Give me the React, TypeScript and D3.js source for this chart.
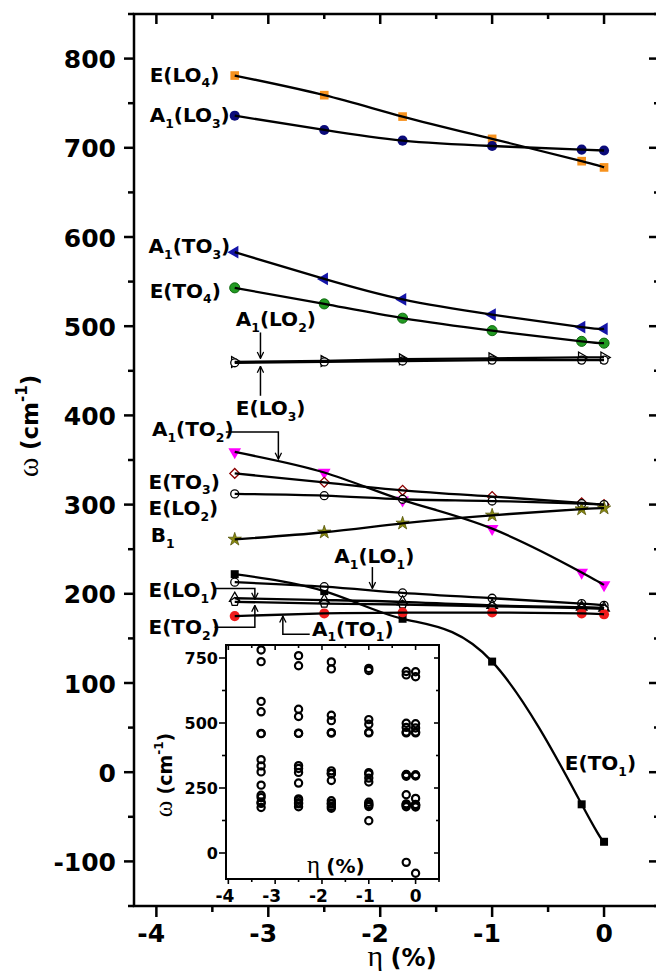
import React from 'react';
import * as d3 from 'd3';

// strain values (%), same for every mode
const eta = [-3.3, -2.5, -1.8, -1.0, -0.2, 0];

// phonon frequencies (cm^-1) per mode
const eLO4 = [781, 759, 735, 710, 685, 678];
const a1LO3 = [736, 720, 708, 702, 698, 697];
const a1TO3 = [583, 553, 530, 513, 499, 497];
const eTO4 = [543, 525, 509, 495, 483, 481];
const a1LO2 = [460, 461, 463, 464, 465, 465];
const eLO3 = [459, 460, 461, 462, 462, 462];
const a1TO2 = [359, 336, 305, 273, 224, 210];
const eTO3 = [335, 325, 316, 309, 302, 300];
const eLO2 = [312, 310, 306, 304, 301, 300];
const b1 = [261, 269, 279, 288, 295, 296];
const a1LO1 = [213, 208, 201, 195, 189, 187];
const eLO1 = [195, 193, 191, 187, 185, 184];
const eTO2 = [191, 189, 188, 186, 184, 183];
const a1TO1 = [175, 178, 179, 179, 178, 177];
const eTO1 = [222, 203, 172, 124, -36, -78];

const xTicks = [-4, -3, -2, -1, 0];
const yTicks = [-100, 0, 100, 200, 300, 400, 500, 600, 700, 800];
const insetXTicks = [-4, -3, -2, -1, 0];
const insetYTicks = [0, 250, 500, 750];

const symbolPentagon = {
  draw(ctx: any, size: number) {
    const r = Math.sqrt(size / 2.4);
    for (let i = 0; i < 5; i++) {
      const a = -Math.PI / 2 + (i * 2 * Math.PI) / 5;
      const px = r * Math.cos(a), py = r * Math.sin(a);
      if (i === 0) ctx.moveTo(px, py); else ctx.lineTo(px, py);
    }
    ctx.closePath();
  },
};

type Series = { values: number[]; type: any; size: number; rotate: number; fill: string; stroke: string; sw: number };

const series: Series[] = [
  { values: eLO4, type: d3.symbolSquare, size: 75, rotate: 0, fill: '#f7921e', stroke: '#f7921e', sw: 0 },
  { values: a1LO3, type: d3.symbolCircle, size: 80, rotate: 0, fill: '#0b0b7a', stroke: '#0b0b7a', sw: 0 },
  { values: a1TO3, type: d3.symbolTriangle, size: 70, rotate: -90, fill: '#1515a8', stroke: '#1515a8', sw: 0 },
  { values: eTO4, type: d3.symbolCircle, size: 80, rotate: 0, fill: '#229a22', stroke: '#0f6a0f', sw: 1 },
  { values: a1LO2, type: d3.symbolTriangle, size: 50, rotate: 90, fill: 'white', stroke: 'black', sw: 1.3 },
  { values: eLO3, type: d3.symbolCircle, size: 50, rotate: 0, fill: 'white', stroke: 'black', sw: 1.3 },
  { values: a1TO2, type: d3.symbolTriangle, size: 70, rotate: 180, fill: '#ff00ff', stroke: '#ff00ff', sw: 0 },
  { values: eTO3, type: d3.symbolSquare, size: 48, rotate: 45, fill: 'white', stroke: '#8b0000', sw: 1.3 },
  { values: eLO2, type: d3.symbolCircle, size: 50, rotate: 0, fill: 'white', stroke: 'black', sw: 1.3 },
  { values: b1, type: d3.symbolStar, size: 55, rotate: 0, fill: '#8a8a10', stroke: '#55550a', sw: 0.8 },
  { values: eTO1, type: d3.symbolSquare, size: 64, rotate: 0, fill: 'black', stroke: 'black', sw: 0 },
  { values: a1LO1, type: d3.symbolCircle, size: 50, rotate: 0, fill: 'white', stroke: 'black', sw: 1.3 },
  { values: eLO1, type: d3.symbolTriangle, size: 48, rotate: 0, fill: 'white', stroke: 'black', sw: 1.3 },
  { values: eTO2, type: symbolPentagon, size: 45, rotate: 0, fill: 'white', stroke: 'black', sw: 1.3 },
  { values: a1TO1, type: d3.symbolCircle, size: 80, rotate: 0, fill: '#f01c1c', stroke: '#f01c1c', sw: 0 },
];

// mode labels: text (with _ subscripts) at data position
const labels = [
  { t: 'E(LO_4)', x: -4.06, y: 774 },
  { t: 'A_1(LO_3)', x: -4.06, y: 729 },
  { t: 'A_1(TO_3)', x: -4.07, y: 582 },
  { t: 'E(TO_4)', x: -4.06, y: 532 },
  { t: 'A_1(LO_2)', x: -3.29, y: 500 },
  { t: 'E(LO_3)', x: -3.29, y: 400 },
  { t: 'A_1(TO_2)', x: -4.04, y: 377 },
  { t: 'E(TO_3)', x: -4.07, y: 318 },
  { t: 'E(LO_2)', x: -4.07, y: 288 },
  { t: 'B_1', x: -4.05, y: 258 },
  { t: 'A_1(LO_1)', x: -2.41, y: 234 },
  { t: 'E(LO_1)', x: -4.07, y: 196 },
  { t: 'E(TO_2)', x: -4.07, y: 155 },
  { t: 'A_1(TO_1)', x: -2.61, y: 153 },
  { t: 'E(TO_1)', x: -0.35, y: 2 },
];

// leader arrows (polyline in data units, arrowhead at last point)
const arrows: [number, number][][] = [
  [[-3.07, 493], [-3.07, 464]],
  [[-3.07, 422], [-3.07, 455]],
  [[-3.38, 381.5], [-2.91, 381.5], [-2.91, 351]],
  [[-2.07, 230], [-2.07, 206]],
  [[-3.48, 206], [-3.12, 206], [-3.12, 194]],
  [[-3.48, 162.4], [-3.12, 162.4], [-3.12, 187]],
  [[-2.63, 154.6], [-2.87, 154.6], [-2.87, 175]],
];

const FONT = '"DejaVu Sans", sans-serif';
const SERIF = '"Liberation Serif", serif';

function Label({ t, x, y, fs }: { t: string; x: number; y: number; fs: number }) {
  const parts = t.split(/(_.)/).filter((p) => p.length);
  return (
    <text x={x} y={y} fontFamily={FONT} fontWeight="bold" fontSize={fs}>
      {parts.map((p, i) =>
        p.startsWith('_') ? (
          <tspan key={i} fontSize={fs * 0.62} dy={fs * 0.28}>{p.slice(1)}</tspan>
        ) : (
          <tspan key={i} dy={i > 0 && parts[i - 1].startsWith('_') ? -fs * 0.28 : 0}>{p}</tspan>
        )
      )}
    </text>
  );
}

export default function App() {
  const xs = d3.scaleLinear().domain([-4.2, 0.5]).range([134, 660]);
  const ys = d3.scaleLinear().domain([-150, 850]).range([906, 14]);
  const ixs = d3.scaleLinear().domain([-4.05, 0.5]).range([226, 439]);
  const iys = d3.scaleLinear().domain([-100, 800]).range([879, 645]);

  const line = d3.line<number>().x((_, i) => xs(eta[i])).y((d) => ys(d)).curve(d3.curveNatural);

  const xMinor = d3.range(-4, 0.51, 0.5).filter((v) => !Number.isInteger(v));
  const yMinor = d3.range(-150, 851, 50).filter((v) => v % 100 !== 0);
  const ixMinor = d3.range(-4, 0.51, 0.5).filter((v) => !Number.isInteger(v));
  const iyMinor = d3.range(-125, 801, 125).filter((v) => v % 250 !== 0 && v > -100);

  const [L, R, T, B] = [134, 660, 14, 906];
  const [iL, iR, iT, iB] = [226, 439, 645, 879];

  return (
    <svg width={656} height={971} style={{ position: 'absolute', left: 0, top: 0, background: 'white' }}>
      <defs>
        <marker id="ah" viewBox="0 0 10 10" refX="9" refY="5" markerWidth="8" markerHeight="8" markerUnits="userSpaceOnUse" orient="auto">
          <path d="M1,1 L9,5 L1,9" fill="none" stroke="black" strokeWidth={1.6} />
        </marker>
      </defs>

      {/* markers */}
      {series.map((s, si) =>
        s.values.map((v, i) => (
          <path
            key={`${si}-${i}`}
            d={d3.symbol().type(s.type).size(s.size)() || ''}
            transform={`translate(${xs(eta[i])},${ys(v)}) rotate(${s.rotate})`}
            fill={s.fill}
            stroke={s.stroke}
            strokeWidth={s.sw}
          />
        ))
      )}
      {/* fitted lines */}
      {series.map((s, si) => (
        <path key={`l${si}`} d={line(s.values) || ''} fill="none" stroke="black" strokeWidth={2.3} />
      ))}

      {/* labels and arrows */}
      {labels.map((l, i) => <Label key={i} t={l.t} x={xs(l.x)} y={ys(l.y)} fs={20} />)}
      {arrows.map((a, i) => (
        <polyline key={i} points={a.map(([x, y]) => `${xs(x)},${ys(y)}`).join(' ')} fill="none" stroke="black" strokeWidth={1.5} markerEnd="url(#ah)" />
      ))}

      {/* main frame and ticks */}
      <rect x={L} y={T} width={R - L} height={B - T} fill="none" stroke="black" strokeWidth={2.5} />
      {xTicks.map((t) => (
        <g key={`xt${t}`}>
          <line x1={xs(t)} x2={xs(t)} y1={B} y2={B + 11} stroke="black" strokeWidth={2.5} />
          <line x1={xs(t)} x2={xs(t)} y1={T} y2={T + 10} stroke="black" strokeWidth={2.5} />
          <text x={xs(t) + 0.35 * 25} y={942} textAnchor="end" fontFamily={FONT} fontWeight="bold" fontSize={25}>{t}</text>
        </g>
      ))}
      {xMinor.map((t) => (
        <g key={`xm${t}`}>
          <line x1={xs(t)} x2={xs(t)} y1={B} y2={B + 6} stroke="black" strokeWidth={2.5} />
          <line x1={xs(t)} x2={xs(t)} y1={T} y2={T + 5} stroke="black" strokeWidth={2.5} />
        </g>
      ))}
      {yTicks.map((t) => (
        <g key={`yt${t}`}>
          <line x1={L - 10} x2={L} y1={ys(t)} y2={ys(t)} stroke="black" strokeWidth={2.5} />
          <line x1={R - 11} x2={R} y1={ys(t)} y2={ys(t)} stroke="black" strokeWidth={2.5} />
          <text x={116} y={ys(t) + 9.5} textAnchor="end" fontFamily={FONT} fontWeight="bold" fontSize={25}>{t}</text>
        </g>
      ))}
      {yMinor.map((t) => (
        <g key={`ym${t}`}>
          <line x1={L - 6} x2={L} y1={ys(t)} y2={ys(t)} stroke="black" strokeWidth={2.5} />
          <line x1={R - 6} x2={R} y1={ys(t)} y2={ys(t)} stroke="black" strokeWidth={2.5} />
        </g>
      ))}
      <text x={402} y={966} textAnchor="middle" fontSize={24}>
        <tspan fontFamily={SERIF} fontSize={30}>η </tspan>
        <tspan fontFamily={FONT} fontWeight="bold">(%)</tspan>
      </text>
      <text transform="translate(38,426) rotate(-90)" textAnchor="middle" fontSize={23}>
        <tspan fontFamily={SERIF} fontSize={30}>ω </tspan>
        <tspan fontFamily={FONT} fontWeight="bold">(cm</tspan>
        <tspan fontFamily={FONT} fontWeight="bold" fontSize={15} dy={-11}>-1</tspan>
        <tspan fontFamily={FONT} fontWeight="bold" dy={11}>)</tspan>
      </text>

      {/* inset */}
      <rect x={iL} y={iT} width={iR - iL} height={iB - iT} fill="white" stroke="black" strokeWidth={2} />
      {series.map((s, si) =>
        s.values.map((v, i) => (
          <circle key={`i${si}-${i}`} cx={ixs(eta[i])} cy={iys(v)} r={3.6} fill="none" stroke="black" strokeWidth={2.2} />
        ))
      )}
      {insetXTicks.map((t) => (
        <g key={`ixt${t}`}>
          <line x1={ixs(t)} x2={ixs(t)} y1={iB} y2={iB + 5} stroke="black" strokeWidth={1.6} />
          <line x1={ixs(t)} x2={ixs(t)} y1={iT} y2={iT + 5} stroke="black" strokeWidth={1.6} />
          <text x={ixs(t) + 0.35 * 17} y={902} textAnchor="end" fontFamily={FONT} fontWeight="bold" fontSize={17}>{t}</text>
        </g>
      ))}
      {ixMinor.map((t) => (
        <g key={`ixm${t}`}>
          <line x1={ixs(t)} x2={ixs(t)} y1={iB} y2={iB + 3} stroke="black" strokeWidth={1.6} />
          <line x1={ixs(t)} x2={ixs(t)} y1={iT} y2={iT + 3} stroke="black" strokeWidth={1.6} />
        </g>
      ))}
      {insetYTicks.map((t) => (
        <g key={`iyt${t}`}>
          <line x1={iL - 7} x2={iL} y1={iys(t)} y2={iys(t)} stroke="black" strokeWidth={1.6} />
          <line x1={iR - 5} x2={iR} y1={iys(t)} y2={iys(t)} stroke="black" strokeWidth={1.6} />
          <text x={218} y={iys(t) + 6} textAnchor="end" fontFamily={FONT} fontWeight="bold" fontSize={16}>{t}</text>
        </g>
      ))}
      {iyMinor.map((t) => (
        <g key={`iym${t}`}>
          <line x1={iL - 4} x2={iL} y1={iys(t)} y2={iys(t)} stroke="black" strokeWidth={1.6} />
          <line x1={iR - 3} x2={iR} y1={iys(t)} y2={iys(t)} stroke="black" strokeWidth={1.6} />
        </g>
      ))}
      <text x={307} y={873} fontSize={20}>
        <tspan fontFamily={SERIF} fontSize={25}>η </tspan>
        <tspan fontFamily={FONT} fontWeight="bold">(%)</tspan>
      </text>
      <text transform="translate(172,775) rotate(-90)" textAnchor="middle" fontSize={19}>
        <tspan fontFamily={SERIF} fontSize={25}>ω </tspan>
        <tspan fontFamily={FONT} fontWeight="bold">(cm</tspan>
        <tspan fontFamily={FONT} fontWeight="bold" fontSize={12} dy={-9}>-1</tspan>
        <tspan fontFamily={FONT} fontWeight="bold" dy={9}>)</tspan>
      </text>
    </svg>
  );
}
